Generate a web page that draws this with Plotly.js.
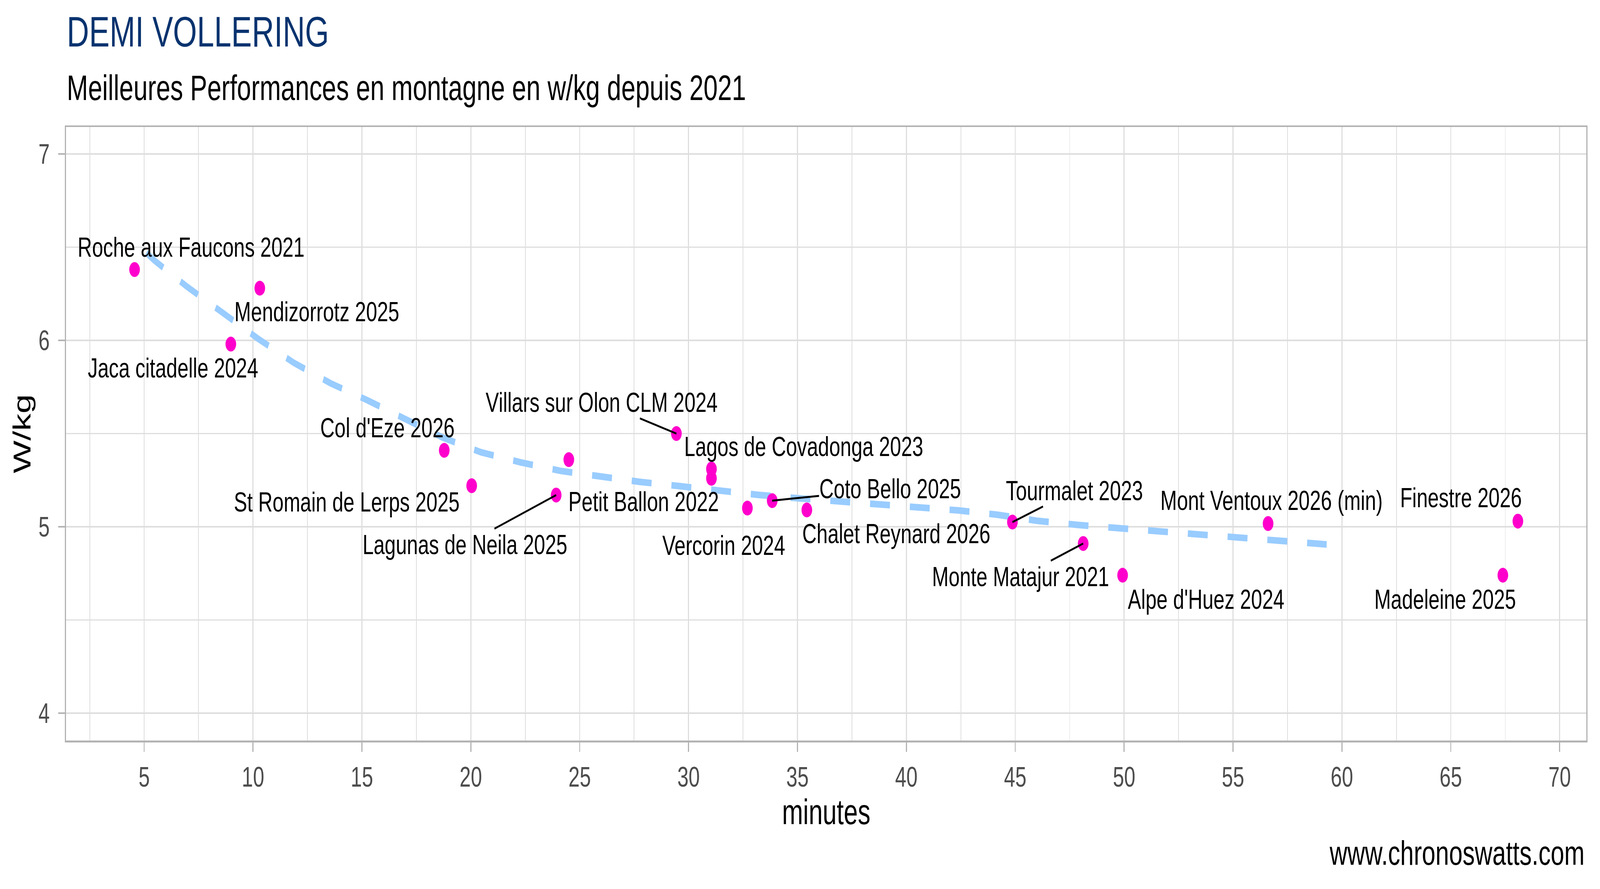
<!DOCTYPE html>
<html>
<head>
<meta charset="utf-8">
<script src="https://cdn.plot.ly/plotly-3.0.1.min.js"></script>
<style>
  html, body { margin: 0; padding: 0; background: #fff; overflow: hidden; }
  #chart { width: 5706px; height: 2275px; transform-origin: 0 0; }
</style>
</head>
<body>
<div id="chart"></div>
<script>
// climbs: time (minutes) and power (W/kg)
const climbs = ["Roche aux Faucons 2021", "Mendizorrotz 2025", "Jaca citadelle 2024", "Col d'Eze 2026",
    "St Romain de Lerps 2025", "Lagunas de Neila 2025", "Petit Ballon 2022", "Villars sur Olon CLM 2024",
    "Lagos de Covadonga 2023", "", "Vercorin 2024", "Coto Bello 2025", "Chalet Reynard 2026",
    "Tourmalet 2023", "Monte Matajur 2021", "Alpe d'Huez 2024", "Mont Ventoux 2026 (min)",
    "Madeleine 2025", "Finestre 2026"];
const minutes = [4.56, 10.31, 8.98, 18.78, 20.04, 23.92, 24.50, 29.44, 31.05, 31.05, 32.70, 33.84, 35.43,
    44.87, 48.12, 49.93, 56.61, 67.39, 68.08];
const wkg = [6.38, 6.28, 5.98, 5.41, 5.22, 5.17, 5.36, 5.50, 5.31, 5.26, 5.10, 5.14, 5.09,
    5.025, 4.91, 4.74, 5.017, 4.74, 5.03];

// smoothed trend
const trendX = [5.1, 5.46, 6.95, 8.57, 10.22, 11.87, 13.56, 15.23, 16.92, 18.68, 20.46, 22.3, 24.11, 25.94,
    27.74, 29.58, 31.42, 33.21, 35.02, 36.89, 38.68, 40.53, 42.36, 44.15, 46.0, 47.86, 49.68, 51.53,
    53.35, 55.17, 57.0, 58.84, 59.3];
const trendY = [6.47, 6.43, 6.29, 6.15, 6.01, 5.88, 5.77, 5.68, 5.58, 5.48, 5.40, 5.345, 5.30, 5.266,
    5.241, 5.218, 5.193, 5.171, 5.153, 5.138, 5.122, 5.104, 5.088, 5.065, 5.032, 5.010, 4.994, 4.978,
    4.962, 4.943, 4.928, 4.912, 4.905];

const xTicks = [5, 10, 15, 20, 25, 30, 35, 40, 45, 50, 55, 60, 65, 70];
const yTicks = [4, 5, 6, 7];

// label placement (pixel offsets from the point, [dx, dy up, segment?])
const labelOffsets = [
    [202, 57, false], [204, -60, false], [-206, -61, false], [-203, 58, false],
    [-446, -41, false], [-325, -127, true], [267, -107, false], [-267, 80, true],
    [329, 58, false], null, [-84, -95, false], [421, 31, true], [319, -60, false],
    [221, 81, true], [-223, -85, true], [297, -62, false], [12, 59, false],
    [-206, -62, false], [-203, 60, false]
];

const FONT = "Liberation Sans, Arial, Helvetica, sans-serif";

let trend = {
    x: trendX,
    y: trendY,
    type: "scatter",
    mode: "lines",
    line: {color: "#99CCFF", width: 17, dash: "71px,71px"},
    hoverinfo: "skip"
};

let points = {
    x: minutes,
    y: wkg,
    text: climbs,
    type: "scatter",
    mode: "markers",
    marker: {color: "#FF00CC", size: 38, line: {width: 0}}
};

// Point labels (ggrepel style)
let annotations = [];
climbs.forEach(function(name, i) {
    let off = labelOffsets[i];
    if (!name || !off) return;
    let a = {
        x: minutes[i], y: wkg[i], xref: "x", yref: "y",
        text: name,
        font: {family: FONT, size: 71, color: "black"},
        xanchor: "center", yanchor: "middle"
    };
    if (off[2]) {
        a.showarrow = true;
        a.arrowhead = 0;
        a.arrowwidth = 5;
        a.arrowcolor = "black";
        a.ax = off[0];
        a.ay = -off[1];
        a.standoff = 0;
    } else {
        a.showarrow = false;
        a.xshift = off[0];
        a.yshift = off[1];
    }
    annotations.push(a);
});

// Title, subtitle, caption
annotations.push({
    xref: "paper", yref: "paper", x: 0, y: 1.1558, xanchor: "left", yanchor: "middle",
    showarrow: false, text: "DEMI VOLLERING",
    font: {family: FONT, size: 110, color: "#08336F"}
});
annotations.push({
    xref: "paper", yref: "paper", x: 0, y: 1.064, xanchor: "left", yanchor: "middle",
    showarrow: false, text: "Meilleures Performances en montagne en w/kg depuis 2021",
    font: {family: FONT, size: 91, color: "black"}
});
annotations.push({
    xref: "paper", yref: "paper", x: 0.9993, y: -0.1834, xanchor: "right", yanchor: "middle",
    showarrow: false, text: "www.chronoswatts.com",
    font: {family: FONT, size: 87, color: "black"}
});

let axisCommon = {
    showline: true, linecolor: "#B3B3B3", linewidth: 4.5, mirror: true,
    showgrid: true, gridcolor: "#DEDEDE", gridwidth: 4,
    zeroline: false,
    ticks: "outside", ticklen: 24, tickwidth: 4, tickcolor: "#B3B3B3",
    tickfont: {family: FONT, size: 72, color: "#4D4D4D"}
};

let layout = {
    width: 5706,
    height: 2275,
    margin: {l: 236, r: 49, t: 325, b: 380},
    paper_bgcolor: "white",
    plot_bgcolor: "white",
    showlegend: false,
    xaxis: Object.assign({}, axisCommon, {
        range: [1.42, 71.22],
        tickmode: "array", tickvals: xTicks,
        ticklabelstandoff: 3,
        minor: {dtick: 2.5, tick0: 0, showgrid: true, gridcolor: "#DEDEDE", gridwidth: 2.5, ticks: ""},
        title: {text: "minutes", font: {family: FONT, size: 90, color: "black"}, standoff: 0}
    }),
    yaxis: Object.assign({}, axisCommon, {
        range: [3.853, 7.145],
        tickmode: "array", tickvals: yTicks,
        ticklabelstandoff: 16,
        minor: {dtick: 0.5, tick0: 0, showgrid: true, gridcolor: "#DEDEDE", gridwidth: 2.5, ticks: ""},
        title: {text: "W/kg", font: {family: FONT, size: 89, color: "black"}, standoff: 0}
    }),
    annotations: annotations
};

// The chart is laid out at 5706 x 2275; fit it to whatever viewport we actually get
Plotly.newPlot("chart", [trend, points], layout, {displayModeBar: false, staticPlot: true}).then(function() {
    let sx = window.innerWidth / 5706, sy = window.innerHeight / 2275;
    document.getElementById("chart").style.transform = "scale(" + sx + "," + sy + ")";
});
</script>
</body>
</html>
